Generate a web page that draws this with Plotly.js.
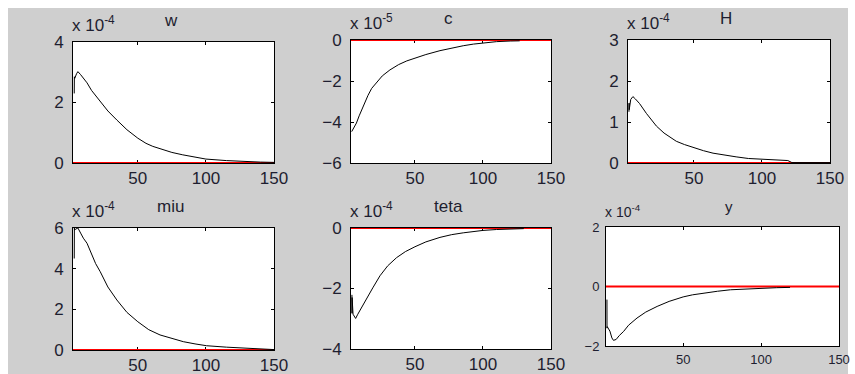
<!DOCTYPE html>
<html><head><meta charset="utf-8">
<script src="https://cdn.plot.ly/plotly-3.0.1.min.js"></script>
<style>html,body{margin:0;padding:0;background:#fff}#chart{width:855px;height:374px}</style>
</head><body><div id="chart"></div>
<script>
// ---- data (values shown in units of 10^exponent) ----
const titles = ['w', 'c', 'H', 'miu', 'teta', 'y'];
const exponents = [-4, -5, -4, -4, -4, -4];
const xTickVals = [50, 100, 150];

const wX = [3.3, 3.4, 3.5, 3.7, 5, 6, 8, 10, 12.7, 16, 22.4, 28, 34.6, 42, 50, 56, 61, 66, 75, 83, 92, 100, 115, 130, 140, 150];
const wY = [2.3, 2.85, 2.3, 2.8, 2.95, 3.02, 2.92, 2.8, 2.65, 2.4, 2.05, 1.72, 1.42, 1.1, 0.82, 0.65, 0.55, 0.47, 0.35, 0.27, 0.19, 0.13, 0.08, 0.04, 0.03, 0.02];

const cX = [3.5, 5, 7, 9, 10.8, 13, 15.5, 18.2, 22, 26, 31.6, 38, 44, 50, 58, 68.4, 77, 85.5, 93, 100, 110, 120, 127];
const cY = [-4.47, -4.3, -4.05, -3.7, -3.41, -3.05, -2.7, -2.36, -2.05, -1.75, -1.46, -1.2, -1.02, -0.88, -0.71, -0.52, -0.39, -0.28, -0.2, -0.14, -0.08, -0.05, -0.04];

const hX = [2.2, 2.3, 2.4, 3.5, 5.1, 7, 10, 15, 18.5, 22.4, 28, 33, 37, 43, 50, 57, 64, 72, 81, 90, 100, 110, 119, 122, 150];
const hY = [1.25, 1.46, 1.3, 1.55, 1.62, 1.56, 1.45, 1.21, 1.05, 0.9, 0.73, 0.61, 0.53, 0.45, 0.37, 0.3, 0.24, 0.19, 0.15, 0.11, 0.09, 0.07, 0.06, 0.01, 0.01];

const miuX = [3.3, 3.4, 3.5, 3.6, 4.5, 6, 8, 10, 12.7, 16, 19, 22.4, 28, 34.6, 42, 50, 58, 66.3, 75, 83.4, 92, 100.5, 115, 129.7, 140, 150];
const miuY = [4.5, 6.0, 4.8, 5.9, 5.95, 6.0, 5.75, 5.5, 5.25, 4.7, 4.25, 3.85, 3.1, 2.46, 1.85, 1.39, 1.0, 0.74, 0.56, 0.41, 0.3, 0.21, 0.14, 0.1, 0.05, 0.02];

const tetaX = [3.7, 3.75, 3.8, 4.5, 6.4, 8, 10, 14.5, 19, 24.3, 30, 36.5, 43, 50, 58, 68.4, 77, 85.5, 93, 100, 110, 120, 130];
const tetaY = [-2.21, -2.82, -2.3, -2.85, -2.99, -2.85, -2.7, -2.34, -1.98, -1.58, -1.25, -0.98, -0.78, -0.62, -0.46, -0.31, -0.22, -0.16, -0.11, -0.08, -0.05, -0.03, -0.02];

const yX = [1.1, 1.15, 1.2, 1.3, 3, 4.3, 5.3, 7, 9, 11.8, 15, 20.4, 26, 33.3, 41, 50, 56, 63.3, 72, 80.4, 90, 100, 110, 118.6];
const yY = [-0.44, -1.4, -0.6, -1.35, -1.5, -1.73, -1.81, -1.78, -1.65, -1.51, -1.3, -1.06, -0.86, -0.67, -0.5, -0.35, -0.28, -0.22, -0.16, -0.11, -0.08, -0.055, -0.04, -0.03];

const zeroX = [0, 150];
const zeroY = [0, 0];

const yTicks = [[0, 2, 4], [-6, -4, -2, 0], [0, 1, 2, 3], [0, 2, 4, 6], [-4, -2, 0], [-2, 0, 2]];
const yRanges = [[0, 4], [-6, 0], [0, 3], [0, 6], [-4, 0], [-2, 2]];
const xStarts = [2.4, 3, 1.5, 2.4, 3, 0.5];
const seriesX = [wX, cX, hX, miuX, tetaX, yX];
const seriesY = [wY, cY, hY, miuY, tetaY, yY];

// ---- layout geometry (pixels) ----
const W = 855, H = 374;
const boxes = [ // [left, right, top, bottom]
  [73, 274, 42, 163],
  [351, 551, 40, 163],
  [628, 830, 40, 163],
  [73, 274, 228, 350],
  [351, 551, 228, 349],
  [606, 839, 227, 346]
];
const FONT = 'Liberation Sans, Arial, sans-serif';
const TXT = '#1e1e30';

const data = [];
const layout = {
  width: W, height: H,
  margin: {l: 0, r: 0, t: 0, b: 0},
  paper_bgcolor: '#cfcfcf',
  plot_bgcolor: '#ffffff',
  showlegend: false,
  annotations: [],
  shapes: [
    {type: 'rect', xref: 'paper', yref: 'paper', x0: 0, x1: 1, y0: 1 - 8 / H, y1: 1, fillcolor: '#ffffff', line: {width: 0}, layer: 'below'},
    {type: 'rect', xref: 'paper', yref: 'paper', x0: 0, x1: 8 / W, y0: 0, y1: 1, fillcolor: '#ffffff', line: {width: 0}, layer: 'below'},
    {type: 'rect', xref: 'paper', yref: 'paper', x0: 848 / W, x1: 1, y0: 0, y1: 1, fillcolor: '#ffffff', line: {width: 0}, layer: 'below'}
  ]
};

boxes.forEach((b, i) => {
  const n = i + 1;
  const xa = n === 1 ? 'x' : 'x' + n;
  const ya = n === 1 ? 'y' : 'y' + n;
  const fs = i === 5 ? 13 : 17;
  data.push({x: zeroX, y: zeroY, xaxis: xa, yaxis: ya, mode: 'lines', line: {color: '#ff0000', width: 2}, hoverinfo: 'skip'});
  data.push({x: seriesX[i], y: seriesY[i], xaxis: xa, yaxis: ya, mode: 'lines', line: {color: '#000000', width: 1}});
  const common = {
    ticks: 'inside', ticklen: 3, tickcolor: '#000', tickwidth: 1,
    showline: true, linecolor: '#000', linewidth: 1, mirror: 'ticks',
    showgrid: false, zeroline: false, layer: 'below traces',
    tickfont: {family: FONT, size: fs, color: TXT}
  };
  layout['xaxis' + (n === 1 ? '' : n)] = Object.assign({}, common, {
    domain: [b[0] / W, b[1] / W], anchor: ya,
    range: [xStarts[i], 150], tickvals: xTickVals, ticklabelstandoff: i === 5 ? 1 : 0
  });
  layout['yaxis' + (n === 1 ? '' : n)] = Object.assign({}, common, {
    domain: [1 - b[3] / H, 1 - b[2] / H], anchor: xa,
    range: yRanges[i], tickvals: yTicks[i], ticklabelstandoff: i === 5 ? 3 : 5
  });
  // exponent label
  layout.annotations.push({
    xref: 'paper', yref: 'paper', x: (b[0] - 3) / W, y: 1 - (b[2] - 5) / H,
    xanchor: 'left', yanchor: 'bottom', showarrow: false,
    text: 'x 10<sup>' + exponents[i] + '</sup>',
    font: {family: FONT, size: i === 5 ? 14 : 17, color: TXT}
  });
  // title
  layout.annotations.push({
    xref: 'paper', yref: 'paper', x: ((b[0] + b[1]) / 2 - 3 + (i === 5 ? 9 : 0)) / W, y: 1 - (b[2] - 10) / H,
    xanchor: 'center', yanchor: 'bottom', showarrow: false,
    text: titles[i],
    font: {family: FONT, size: i === 5 ? 15 : 17, color: TXT}
  });
});

Plotly.newPlot('chart', data, layout, {displayModeBar: false, staticPlot: true});
</script>
</body></html>
